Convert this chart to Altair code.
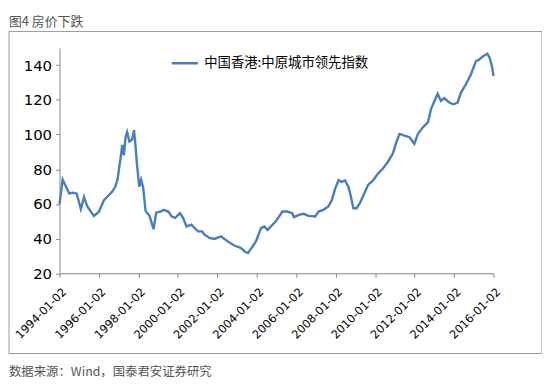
import altair as alt
import pandas as pd

title_text = "图4 房价下跌"
source_text = "数据来源：Wind，国泰君安证券研究"
series_name = "中国香港:中原城市领先指数"

dates = [
    "1994/01/02", "1994/03/01", "1994/05/01", "1994/07/01", "1994/09/01", "1994/11/15",
    "1995/02/01", "1995/04/01", "1995/06/01", "1995/10/01", "1996/01/02", "1996/04/01",
    "1996/07/01", "1996/09/01", "1996/11/01", "1996/12/10", "1997/02/08", "1997/03/09",
    "1997/04/08", "1997/05/09", "1997/06/07", "1997/07/19", "1997/09/05", "1997/10/12",
    "1997/11/05", "1997/12/03", "1998/01/16", "1998/02/20", "1998/04/02", "1998/05/14",
    "1998/07/28", "1998/10/10", "1998/11/27", "1999/02/25",
    "1999/04/10", "1999/07/10", "1999/09/10", "1999/11/10", "2000/02/10",
    "2000/04/10", "2000/06/10", "2000/09/10", "2000/11/10", "2001/01/10", "2001/03/25",
    "2001/05/10", "2001/08/10", "2001/11/10", "2002/03/10", "2002/07/10", "2002/11/10",
    "2003/03/10", "2003/06/10", "2003/07/25", "2003/10/20", "2003/12/20", "2004/03/20",
    "2004/05/20", "2004/07/20", "2004/10/20", "2004/12/20", "2005/02/20", "2005/04/20",
    "2005/07/20", "2005/10/20", "2005/11/20", "2006/02/20", "2006/05/20", "2006/08/20",
    "2006/12/20", "2007/02/20", "2007/05/20", "2007/08/20", "2007/10/25", "2007/12/25",
    "2008/02/25", "2008/04/25", "2008/06/25", "2008/08/25", "2008/10/05", "2008/11/25",
    "2009/01/25", "2009/03/25", "2009/05/25", "2009/08/25", "2009/11/25", "2010/02/25",
    "2010/05/25", "2010/08/25", "2010/11/25", "2011/01/30", "2011/03/30", "2011/06/30",
    "2011/09/30", "2011/12/30", "2012/03/05", "2012/06/05", "2012/09/05", "2012/11/05",
    "2013/01/05", "2013/03/05", "2013/05/05", "2013/07/05", "2013/10/05", "2013/12/20",
    "2014/03/10", "2014/05/10", "2014/08/10", "2014/11/10", "2015/02/10", "2015/04/10",
    "2015/06/20", "2015/09/10", "2015/10/25", "2015/12/10", "2016/01/02",
]
values = [
    60.0, 74.0, 70.0, 66.0, 66.5, 66.0,
    57.0, 64.0, 58.5, 53.0, 55.5, 62.0,
    65.0, 67.0, 70.0, 74.0, 87.0, 94.0,
    88.0, 98.5, 101.5, 96.0, 97.0, 102.5,
    95.0, 84.0, 70.0, 74.0, 69.0, 56.0,
    53.0, 45.5, 55.0, 55.7,
    56.6, 55.6, 52.8, 51.8, 54.7,
    51.8, 47.0, 48.0, 46.0, 44.2, 44.2,
    42.3, 40.4, 39.8, 41.3, 38.5, 36.0,
    34.7, 32.2, 31.8, 35.6, 38.5, 46.0,
    47.0, 45.0, 48.0, 50.0, 52.8, 55.6,
    55.6, 54.7, 52.4, 53.7, 54.3, 53.1,
    52.8, 55.6, 56.6, 58.5, 62.3, 69.0,
    73.7, 72.7, 73.5, 70.0, 65.0, 57.5,
    57.5, 60.4, 64.5, 71.0, 73.5, 77.5,
    80.4, 84.2, 89.0, 95.6, 100.4, 99.4,
    98.5, 94.7, 100.4, 104.2, 107.0, 115.0,
    119.4, 123.6, 119.4, 121.0, 118.5, 117.5,
    118.5, 124.2, 129.0, 134.7, 142.3, 143.2,
    145.1, 146.7, 144.2, 138.6, 133.7,
]
tick_years = [1994, 1996, 1998, 2000, 2002, 2004, 2006, 2008, 2010, 2012, 2014, 2016]
y_ticks = [20, 40, 60, 80, 100, 120, 140]

df = pd.DataFrame({"date": dates, "value": values, "series": series_name})

FONT = "DejaVu Sans"
CJK = "Noto Sans CJK SC"
W, H = 438, 227.5

x_ticks = [alt.DateTime(year=y, month=1, date=2) for y in tick_years]

line = alt.Chart(df).mark_line(strokeWidth=2.4).encode(
    x=alt.X(
        "date:T",
        scale=alt.Scale(domain=[x_ticks[0], x_ticks[-1]]),
        axis=alt.Axis(
            values=x_ticks, format="%Y-%m-%d", title=None, grid=False,
            labelAngle=-45, labelAlign="right", labelBaseline="middle",
            labelFont=FONT, labelFontSize=11.5, labelColor="#000000",
            labelPadding=13, labelOffset=5, labelOverlap=False, labelBound=False, labelFlush=False,
            domainColor="#868686", tickColor="#868686", tickSize=4,
        ),
    ),
    y=alt.Y(
        "value:Q",
        scale=alt.Scale(domain=[20, 150], nice=False, zero=False),
        axis=alt.Axis(
            values=y_ticks, title=None, grid=False,
            labelFont=FONT, labelFontSize=15, labelColor="#000000",
            labelPadding=4, domainColor="#868686", tickColor="#868686", tickSize=4,
        ),
    ),
    color=alt.Color(
        "series:N",
        scale=alt.Scale(range=["#4a7ebb"]),
        legend=alt.Legend(
            title=None, orient="none", legendX=112, legendY=1,
            symbolType="stroke", symbolSize=700, symbolStrokeWidth=2.5,
            labelFont=CJK, labelFontSize=13.5, labelColor="#000000",
            labelLimit=500, labelOffset=5,
        ),
    ),
)

frame = alt.Chart(pd.DataFrame({"k": [0]})).mark_rect(
    fillOpacity=0, stroke="#9a9a9a", strokeWidth=1
).encode(
    x=alt.value(-51), x2=alt.value(487), y=alt.value(-16.5), y2=alt.value(308.5)
)

title = alt.Chart(pd.DataFrame({"t": [title_text]})).mark_text(
    align="left", baseline="middle", font=CJK, fontSize=13, color="#555555"
).encode(text="t:N", x=alt.value(-51), y=alt.value(-26.5))

source = alt.Chart(pd.DataFrame({"t": [source_text]})).mark_text(
    align="left", baseline="middle", font=CJK, fontSize=12.5, color="#555555"
).encode(text="t:N", x=alt.value(-51), y=alt.value(327))

chart = alt.layer(frame, line, title, source).properties(
    width=W, height=H,
    autosize=alt.AutoSizeParams(type="none"),
    padding={"left": 52, "top": 38.5, "right": 49, "bottom": 110},
).configure_view(strokeWidth=0)

chart.save("out.html", embed_options={"renderer": "svg", "actions": False})
